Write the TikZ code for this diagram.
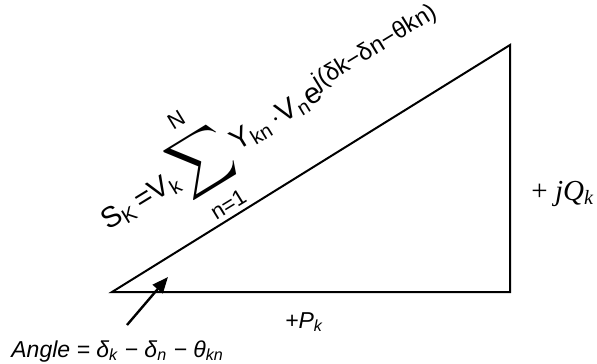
\documentclass[tikz,border=0pt]{standalone}
\usepackage{amsmath}
\usepackage{fontspec}
\setmainfont{Liberation Sans}
\newfontfamily\timesfont{Liberation Serif}
\usepackage{tikz}
\usetikzlibrary{arrows.meta}

\newcommand{\sumlimit}[1]{\text{\fontsize{11}{12}\selectfont #1}}

\begin{document}
\begin{tikzpicture}[
      x=0.5pt, y=-0.5pt,
      side/.style={line width=1pt, line join=miter},
      arr/.style={-{Triangle[length=8pt, width=6.5pt]}, line width=1.2pt},
      formula/.style={font=\fontsize{14.5}{18}\selectfont, inner sep=0pt},
      lbl/.style={font=\fontsize{11.5}{13}\selectfont\itshape, inner sep=0pt}
    ]
    \useasboundingbox (0,0) rectangle (597,363);

    \coordinate (bl) at (112,292);
    \coordinate (br) at (510,292);
    \coordinate (tr) at (510,45);
    \draw[side] (bl) -- (br) -- (tr) -- cycle;

    \node[formula, anchor=base west, rotate=31.5] (sk) at (108,231)
      {S\textsubscript{K}\,=V\textsubscript{k}{\fontsize{21}{24}\selectfont$\displaystyle\sum_{\sumlimit{n=1}}^{\sumlimit{N}}$}\,Y\textsubscript{kn}\,$\cdot$V\textsubscript{n}e\textsuperscript{\fontsize{12}{14}\selectfont j(δk−δn−θkn)}};

    \node[anchor=base west, inner sep=0pt, font=\timesfont\fontsize{14.5}{16}\selectfont] (q) at (531,200)
      {+ \textit{jQ\textsubscript{k}}};
    \node[lbl, anchor=base] (p) at (304,328) {+P\textsubscript{k}};
    \node[lbl, anchor=base west] (angle) at (11,357)
      {Angle = δ\textsubscript{k} − δ\textsubscript{n} − θ\textsubscript{kn}};

    \coordinate (tail) at (127,325);
    \coordinate (tip) at (168,277);
    \draw[arr] (tail) -- (tip);
  \end{tikzpicture}
\end{document}
